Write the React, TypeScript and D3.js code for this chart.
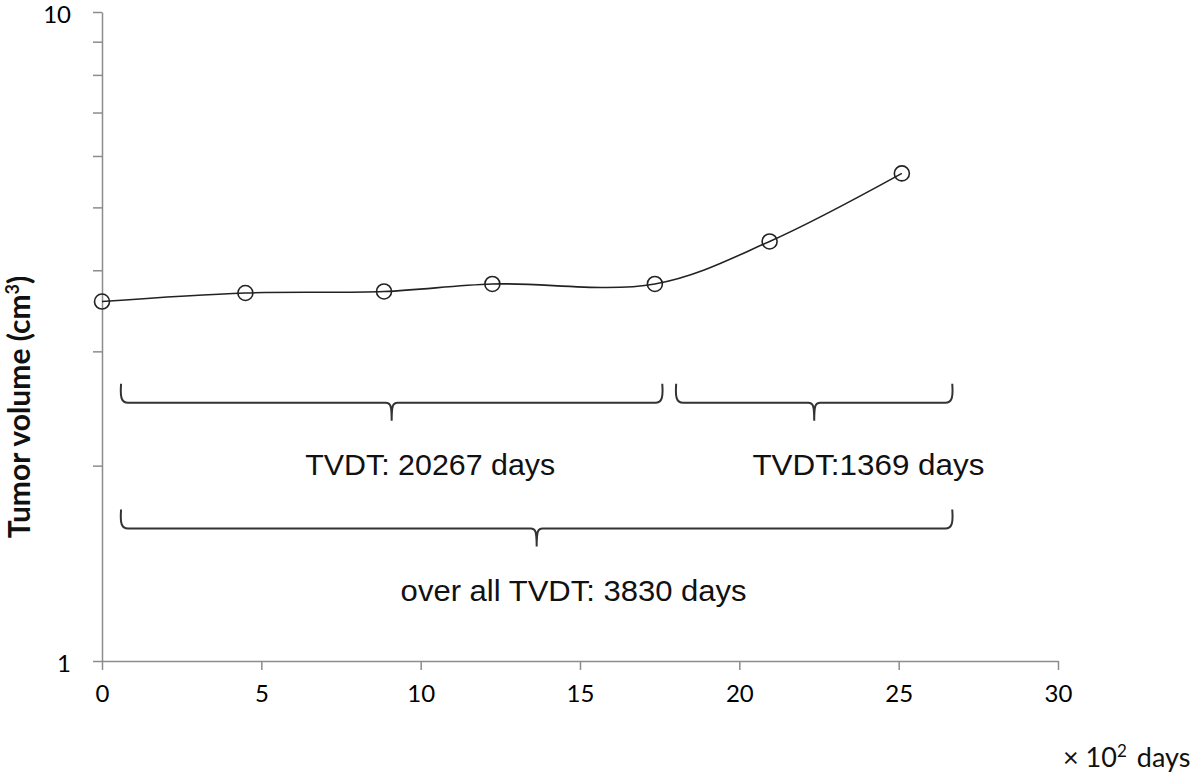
import React, { useEffect, useRef } from 'react';
import * as d3 from 'd3';

// measurements (x in ×10² days, y in cm³)
const days = [0, 4.5, 8.85, 12.25, 17.35, 20.95, 25.1];
const volumes = [3.58, 3.69, 3.71, 3.81, 3.81, 4.43, 5.64];

const xTicks = [0, 5, 10, 15, 20, 25, 30];
const yTicks = [1, 2, 3, 4, 5, 6, 7, 8, 9, 10];
const yLabels = [1, 10];

// TVDT braces: span in ×10² days, level in cm³
const braceStarts = [0.63, 18.05, 0.63];
const braceEnds = [17.55, 26.65, 26.65];
const braceLevels = [2.5, 2.5, 1.6];
const braceTexts = ['TVDT: 20267 days', 'TVDT:1369 days', 'over all TVDT: 3830 days'];
const braceTextX = [10.3, 24.05, 14.8];
const braceTextW = [250, 232, 346];

const AXIS = '#8c8c8c';
const TICK_FONT = 'Lato, "Open Sans", sans-serif';
const NOTE_FONT = '"Liberation Sans Narrow", "Liberation Sans", Arial, sans-serif';

function bracePath(x1: number, x2: number, y: number) {
  const m = (x1 + x2) / 2, h = 19, t = 18;
  return `M${x1 - 1},${y - h} C${x1 - 2},${y - 6} ${x1 - 1},${y} ${x1 + 6},${y} ` +
    `L${m - 6},${y} C${m - 1},${y} ${m},${y + 3} ${m},${y + t} ` +
    `C${m},${y + 3} ${m + 1},${y} ${m + 6},${y} ` +
    `L${x2 - 6},${y} C${x2 + 1},${y} ${x2 + 2},${y - 6} ${x2 + 1},${y - h}`;
}

export default function App() {
  const svgRef = useRef<SVGSVGElement | null>(null);

  useEffect(() => {
    if (!svgRef.current) return;
    const svg = d3.select(svgRef.current);
    svg.selectAll('*').remove();

    const x = d3.scaleLinear().domain([0, 30]).range([102, 1058]);
    const y = d3.scaleLog().domain([1, 10]).range([661, 12]);

    // x axis
    const gx = svg.append('g')
      .attr('transform', `translate(0,${y(1)})`)
      .call(d3.axisBottom(x).tickValues(xTicks).tickSize(9).tickSizeOuter(0).tickPadding(15)
        .tickFormat(d3.format('d') as any));
    // y axis
    const gy = svg.append('g')
      .attr('transform', `translate(${x(0)},0)`)
      .call(d3.axisLeft(y).tickValues(yTicks).tickSize(9).tickSizeOuter(0).tickPadding(22)
        .tickFormat((d: any) => (yLabels.includes(+d) ? String(d) : '')));

    [gx, gy].forEach(g => {
      g.select('.domain').attr('stroke', AXIS).attr('stroke-width', 1.5);
      g.selectAll('.tick line').attr('stroke', AXIS).attr('stroke-width', 1.5);
      g.selectAll('.tick text')
        .attr('fill', '#000')
        .style('font-family', TICK_FONT)
        .style('font-size', '24px');
    });
    gy.selectAll('.tick text').attr('dy', '0.42em');

    // data curve
    const pts = days.map((d, i) => [d, volumes[i]] as [number, number]);
    const line = d3.line<[number, number]>()
      .x(d => x(d[0]))
      .y(d => y(d[1]))
      .curve(d3.curveCatmullRom.alpha(0.5));

    svg.append('path')
      .datum(pts)
      .attr('d', line)
      .attr('fill', 'none')
      .attr('stroke', '#222')
      .attr('stroke-width', 1.6);

    svg.selectAll('circle.pt')
      .data(pts)
      .enter()
      .append('circle')
      .attr('class', 'pt')
      .attr('cx', d => x(d[0]))
      .attr('cy', d => y(d[1]))
      .attr('r', 7.5)
      .attr('fill', 'none')
      .attr('stroke', '#222')
      .attr('stroke-width', 1.6);

    // braces + TVDT notes
    braceTexts.forEach((txt, i) => {
      const ly = y(braceLevels[i]);
      svg.append('path')
        .attr('d', bracePath(x(braceStarts[i]), x(braceEnds[i]), ly))
        .attr('fill', 'none')
        .attr('stroke', '#333')
        .attr('stroke-width', 2);
      svg.append('text')
        .attr('x', x(braceTextX[i]))
        .attr('y', ly + 72)
        .attr('text-anchor', 'middle')
        .attr('textLength', braceTextW[i])
        .attr('lengthAdjust', 'spacingAndGlyphs')
        .style('font-family', NOTE_FONT)
        .style('font-size', '30px')
        .attr('fill', '#111')
        .text(txt);
    });

    // y axis title
    const yt = svg.append('text')
      .attr('transform', `translate(30,407) rotate(-90)`)
      .attr('text-anchor', 'middle')
      .style('font-family', TICK_FONT)
      .style('font-size', '30px')
      .style('font-weight', 'bold')
      .attr('fill', '#111');
    yt.append('tspan').text('Tumor volume (cm');
    yt.append('tspan').attr('baseline-shift', 'super').style('font-size', '18px').text('3');
    yt.append('tspan').text(')');

    // x unit note
    const xt = svg.append('text')
      .attr('x', 1063)
      .attr('y', 767)
      .style('font-family', TICK_FONT)
      .style('font-size', '27px')
      .attr('fill', '#111');
    xt.append('tspan').text('× 10');
    xt.append('tspan').attr('baseline-shift', 'super').style('font-size', '17px').text('2');
    xt.append('tspan').attr('dx', 10).text('days');
  }, []);

  return (
    <svg
      ref={svgRef}
      width={1200}
      height={782}
      style={{ position: 'absolute', left: 0, top: 0, background: '#fff' }}
    />
  );
}
